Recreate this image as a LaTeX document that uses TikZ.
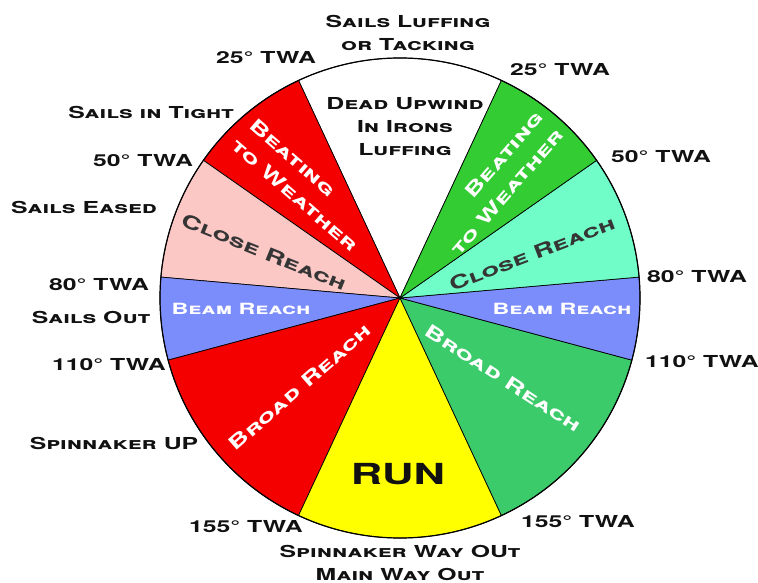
\documentclass[tikz,border=0pt]{standalone}
\usepackage{fontspec}
\newfontfamily\widefont[FakeStretch=1.5]{TeX Gyre Heros}
\usetikzlibrary{positioning}
\definecolor{BeatRed}{HTML}{F50000}
\definecolor{ClosePink}{HTML}{FBC8C6}
\definecolor{BeamBlue}{HTML}{7B8CFB}
\definecolor{RunYellow}{HTML}{FFFF00}
\definecolor{BroadGreen}{HTML}{3CCB6B}
\definecolor{CloseAqua}{HTML}{70FDC8}
\definecolor{BeatGreen}{HTML}{33CC33}
\definecolor{Ink}{HTML}{111111}

\begin{document}
\begin{tikzpicture}[
  x=1pt,y=1pt,
  every node/.style={font=\widefont\bfseries\scshape\fontsize{16.5}{23}\selectfont,inner sep=0pt,text=Ink},
  inlbl/.style={text=white},
  big/.style={font=\widefont\bfseries\scshape\fontsize{18.5}{27}\selectfont},
  ghost/.style={text=Ink!85},
  sector/.style={draw=black,line width=0.7pt}
]
\useasboundingbox (-400,-285) rectangle (358,298);

% sectors, angles counted from east
\foreach \a/\b/\c in {65/115/white,115/145/BeatRed,145/175/ClosePink,175/195/BeamBlue,
                      195/245/BeatRed,245/295/RunYellow,295/345/BroadGreen,345/365/BeamBlue,
                      5/35/CloseAqua,35/65/BeatGreen}
  \filldraw[sector,fill=\c] (0,0) -- (\a:240) arc[start angle=\a,end angle=\b,radius=240] -- cycle;
\draw[line width=1.2pt] (0,0) circle[radius=240];

% labels round the rim
\node[align=center] (luff) at (8,265) {Sails Luffing\\or Tacking};
\node (twa25l) at (-134,240) {25\textdegree{} TWA};
\node (twa25r) at (160,228) {25\textdegree{} TWA};
\node (tight) at (-249,186) {Sails in Tight};
\node (twa50l) at (-257,137) {50\textdegree{} TWA};
\node (twa50r) at (261,141) {50\textdegree{} TWA};
\node (eased) at (-316,91) {Sails Eased};
\node (twa80l) at (-301,13) {80\textdegree{} TWA};
\node (twa80r) at (297,21) {80\textdegree{} TWA};
\node (out) at (-309,-19) {Sails Out};
\node (twa110l) at (-291,-67) {110\textdegree{} TWA};
\node (twa110r) at (302,-64) {110\textdegree{} TWA};
\node (spinup) at (-286,-145) {Spinnaker UP};
\node (twa155l) at (-154,-229) {155\textdegree{} TWA};
\node (twa155r) at (178,-224) {155\textdegree{} TWA};
\node[align=center] (wayout) at (0,-265) {Spinnaker Way OUt\\Main Way Out};

% labels inside the sectors
\node[align=center] (upwind) at (5,171) {Dead Upwind\\In Irons\\Luffing};
\node[big,inlbl,align=left,rotate=-41] (beatl) at (-96,113) {Beating\\to Weather};
\node[big,inlbl,align=right,rotate=49] (beatr) at (97,115) {Beating\\to Weather};
\node[big,ghost,rotate=-22] (closel) at (-136,46) {Close Reach};
\node[big,ghost,rotate=21] (closer) at (132,44) {Close Reach};
\node[inlbl,font=\widefont\bfseries\scshape\fontsize{15.5}{16}\selectfont] (beaml) at (-159,-11) {Beam Reach};
\node[inlbl,font=\widefont\bfseries\scshape\fontsize{15.5}{16}\selectfont] (beamr) at (162,-11) {Beam Reach};
\node[big,inlbl,rotate=41] (broadl) at (-100,-89) {Broad Reach};
\node[big,inlbl,rotate=-33] (broadr) at (103,-80) {Broad Reach};
\node[font=\widefont\bfseries\fontsize{29}{30}\selectfont] (run) at (-2,-176) {RUN};
\end{tikzpicture}
\end{document}
